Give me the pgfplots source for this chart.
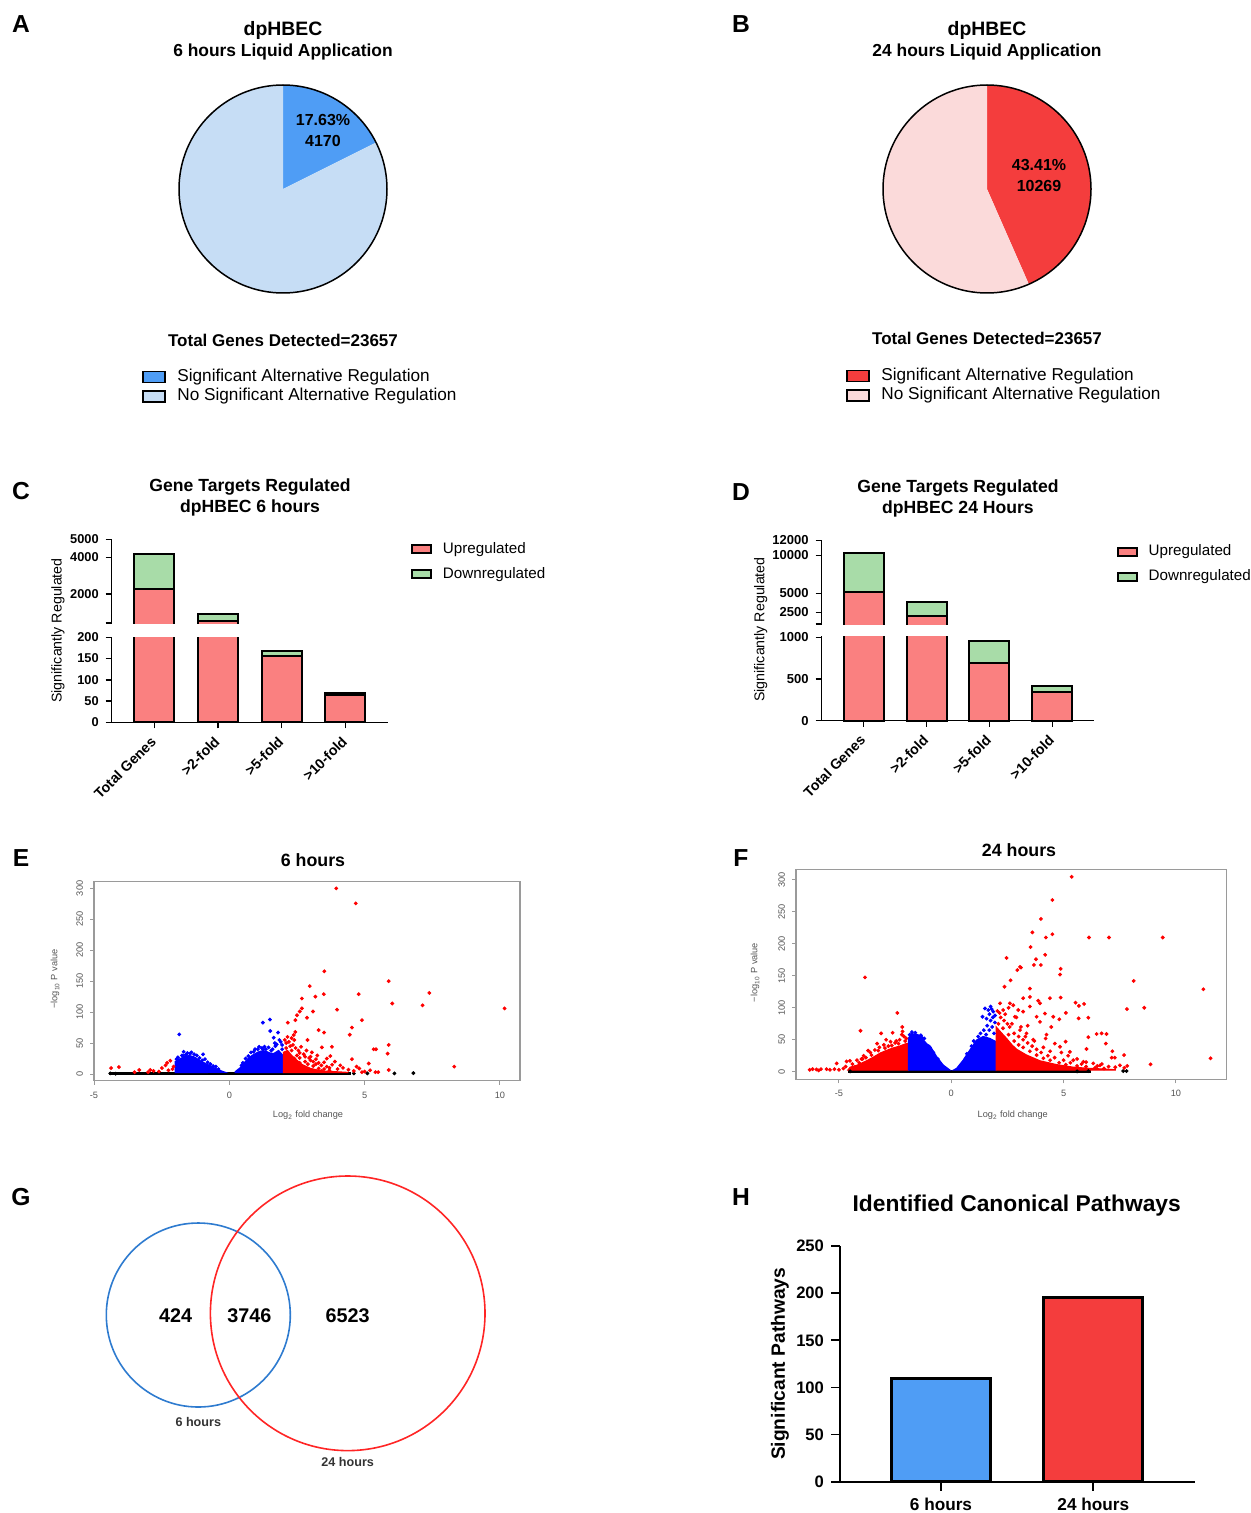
\documentclass[border=0pt]{standalone}
\usepackage{fontspec}
\setmainfont{Liberation Sans}
\usepackage{pgfplots}
\pgfplotsset{compat=1.18}
\definecolor{pieblue}{HTML}{4F9DF5}
\definecolor{pielight}{HTML}{C6DDF5}
\definecolor{piered}{HTML}{F43D3D}
\definecolor{piepink}{HTML}{FBDADA}
\definecolor{barred}{HTML}{FA8080}
\definecolor{bargreen}{HTML}{A8DCA8}
\definecolor{vennblue}{HTML}{2E7BCF}
\definecolor{vennred}{HTML}{FF2525}
\definecolor{vblue}{HTML}{0000FF}
\definecolor{vred}{HTML}{FF0000}
\definecolor{frame}{HTML}{9A9A9A}
\definecolor{tlab}{HTML}{555555}
\newcommand\fs[1]{\fontsize{#1}{#1}\selectfont}
\pgfplotsset{
  every axis/.append style={/pgf/number format/assume math mode=true, /pgf/number format/1000 sep={}},
  pieax/.style={scale only axis, width=104pt, height=104pt, xmin=-1, xmax=1, ymin=-1, ymax=1,
    hide axis, clip=false, legend cell align=left,
    legend image code/.code={\draw[##1, draw=black, line width=0.7pt] (0pt,-2.7pt) rectangle (11pt,2.8pt);},
    legend style={draw=none, fill=none, inner sep=0pt, column sep=5pt, row sep=0pt, font=\fs{8.6},
      nodes={inner sep=0.8pt, text height=6.2pt, text depth=1.8pt}, anchor=north west}},
  gbar/.style={scale only axis, ybar, bar width=20pt, axis line style={-, line width=0.75pt},
    tick align=outside, major tick length=3pt, tick style={line width=0.75pt, black},
    clip=false, axis y line*=left, axis x line*=bottom,
    xtick={0,1,2,3}, xticklabels={Total Genes,>2-fold,>5-fold,>10-fold},
    xticklabel style={xshift=2pt, yshift=-3pt, rotate=45, anchor=east, font=\bfseries\fs{7.1}},
    legend cell align=left, reverse legend,
    legend image code/.code={\draw[##1, draw=black, line width=1pt] (0pt,-2pt) rectangle (9.5pt,2.2pt);},
    legend style={draw=none, fill=none, inner sep=0pt, column sep=4.5pt, row sep=3.9pt, font=\fs{7.6},
      nodes={inner sep=0.8pt, text height=5.4pt, text depth=1.6pt}, anchor=north west}},
  volc/.style={scale only axis, axis line style={draw=frame, line width=0.6pt},
    xtick={-5,0,5,10}, ytick={0,50,100,150,200,250,300},
    xtick pos=left, ytick pos=left,
    tick align=outside, major tick length=2pt, tick style={draw=frame, line width=0.5pt},
    tick label style={font=\fs{4.6}, text=tlab},
    yticklabel style={rotate=90, anchor=south}},
  rdot/.style={only marks, mark=*, mark size=0.75pt, color=vred, mark options={draw=vred, fill=vred}},
  bdot/.style={only marks, mark=*, mark size=0.75pt, color=vblue, mark options={draw=vblue, fill=vblue}},
  kdot/.style={only marks, mark=*, mark size=0.75pt, color=black, mark options={draw=black, fill=black}},
}
\begin{document}
\begin{tikzpicture}
\useasboundingbox (0,0) rectangle (625pt,-756.5pt);
\begin{scope}[x=0.5pt,y=-0.5pt]
\coordinate (PA) at (283,189);
\coordinate (PB) at (987,189);
\coordinate (Clow) at (111.7,722.3);
\coordinate (Dlow) at (821.7,720.7);
\coordinate (Eax) at (94,1080.7);
\coordinate (Fax) at (796,1079.3);
\coordinate (Gax) at (0,1160);
\coordinate (Hax) at (840,1481.7);
\end{scope}

% ---------- A: pie 6 h ----------
\begin{axis}[pieax, at={(PA)}, anchor=center, legend style={at={(-0.178,-0.357)}}]
\addplot[fill=pieblue, draw=none, domain=26.53:90, samples=60] ({cos(x)},{sin(x)}) -- (0,0) -- cycle;
\addplot[fill=pielight, draw=none, domain=90:386.53, samples=150] ({cos(x)},{sin(x)}) -- (0,0) -- cycle;
\draw[black, line width=0.75pt] (0,0) circle[radius=1];
\legend{Significant Alternative Regulation, No Significant Alternative Regulation}
\end{axis}

% ---------- B: pie 24 h ----------
\begin{axis}[pieax, at={(PB)}, anchor=center, legend style={at={(-0.178,-0.352)}}]
\addplot[fill=piered, draw=none, domain=-66.28:90, samples=100] ({cos(x)},{sin(x)}) -- (0,0) -- cycle;
\addplot[fill=piepink, draw=none, domain=90:293.72, samples=120] ({cos(x)},{sin(x)}) -- (0,0) -- cycle;
\draw[black, line width=0.75pt] (0,0) circle[radius=1];
\legend{Significant Alternative Regulation, No Significant Alternative Regulation}
\end{axis}

% ---------- C: bars 6 h (broken y axis) ----------
% green bars = total (up + down), red bars = upregulated, drawn over them
\begin{axis}[gbar, at={(Clow)}, anchor=south west, width=138.3pt, height=91.5pt,
  xmin=-0.669, xmax=3.675, ymin=0, ymax=5000,
  y coord trafo/.code={\pgfmathparse{(#1<=200) ? 0.425*#1 : ((#1<=400) ? 85+(#1-200)*0.0707 : 128.3+(#1-2000)*0.018233)}},
  ytick={0,50,100,150,200,400,2000,4000,5000}, yticklabels={0,50,100,150,200,,2000,4000,5000},
  yticklabel style={font=\bfseries\fs{6.4}},
  legend style={at={(1.082,0.994)}}]
\addplot[fill=bargreen, draw=black, line width=1pt, bar shift=0pt] coordinates {(0,4170) (1,900) (2,168) (3,70)};
\addplot[fill=barred, draw=black, line width=1pt, bar shift=0pt] coordinates {(0,2250) (1,520) (2,157) (3,64)};
\fill[white] (axis cs:-0.76,202) rectangle (axis cs:3.675,390);
\legend{Downregulated, Upregulated}
\end{axis}

% ---------- D: bars 24 h (broken y axis) ----------
\begin{axis}[gbar, at={(Dlow)}, anchor=south west, width=136.15pt, height=90.2pt,
  xmin=-0.668, xmax=3.663, ymin=0, ymax=12000,
  y coord trafo/.code={\pgfmathparse{(#1<=1000) ? 0.0834*#1 : ((#1<=1100) ? 83.4+(#1-1000)*0.1439 : 108.4+(#1-2500)*0.0075789)}},
  ytick={0,500,1000,1092.4,2500,5000,10000,12000}, yticklabels={0,500,1000,,2500,5000,10000,12000},
  yticklabel style={font=\bfseries\fs{6.5}},
  legend style={at={(1.083,0.985)}}]
\addplot[fill=bargreen, draw=black, line width=1pt, bar shift=0pt] coordinates {(0,10269) (1,3820) (2,955) (3,420)};
\addplot[fill=barred, draw=black, line width=1pt, bar shift=0pt] coordinates {(0,5150) (1,2000) (2,690) (3,340)};
\fill[white] (axis cs:-0.76,1006) rectangle (axis cs:3.663,1086);
\legend{Downregulated, Upregulated}
\end{axis}

% ---------- E: volcano 6 h ----------
\begin{axis}[volc, at={(Eax)}, anchor=south west, width=213pt, height=99.5pt,
  xmin=-5, xmax=10.74, ymin=-10.8, ymax=310.7]
\addplot[fill=black, draw=none] coordinates {(-4.45,-1.5) (4.5,-1.5) (4.5,2.5) (-4.45,2.5)} -- cycle;
\addplot[kdot] coordinates {(-4.4,1) (-4.2,0.5) (4.6,1) (5.1,1) (6.1,1) (6.8,1.5)};
\addplot[fill=vblue, draw=vblue, line width=0.6pt] coordinates {(-2.0,2.5) (-2.0,20) (-1.9,23) (-1.81,25) (-1.65,28) (-1.5,30) (-1.32,28) (-1.2,25) (-1.07,21) (-0.83,16) (-0.58,10.5) (-0.33,5.5) (-0.15,2.7)} -- cycle;
\addplot[fill=vblue, draw=vblue, line width=0.6pt] coordinates {(0.22,2.5) (0.22,3.8) (0.41,10.5) (0.59,20) (0.7,25) (0.84,30) (1.0,34) (1.15,37) (1.39,36) (1.5,34) (1.64,33) (1.82,38) (1.9,34) (1.98,30) (1.98,2.5)} -- cycle;
\addplot[bdot] coordinates {(-1.85,64) (-1.69,36) (-0.97,31.8) (-1.55,34) (-1.4,35) (-1.75,30) (-1.2,30) (-1.9,27) (-1.6,31.5) (-0.9,24) (-0.7,16) (-0.5,12) (-1.1,26) (-1.3,32) (-1.45,33) (-1.0,22) (-0.8,19) (-0.6,13) (-0.4,8) (-1.95,24) (-1.7,29)
 (1.24,83) (1.50,88) (1.51,69.5) (1.80,67) (1.64,58.7) (1.2,42) (1.3,44) (1.45,43) (1.6,40) (1.75,48) (1.9,52) (1.7,45) (0.95,40) (0.8,35) (0.6,25) (0.5,18) (1.1,44) (1.85,55) (1.95,47) (1.68,50) (1.05,40) (1.35,40) (1.55,38) (0.9,36) (0.7,29) (0.45,14) (1.25,39) (1.95,40)};
\addplot[fill=vred, draw=vred, line width=0.6pt] coordinates {(2.0,2.5) (2.0,35) (2.15,38) (2.3,30) (2.5,22) (2.7,15) (3.0,9) (3.4,5) (4.0,3.5) (4.4,2.5)} -- cycle;
\addplot[rdot] coordinates {(3.95,300) (4.67,275.7) (3.51,166) (5.89,150) (2.97,142) (7.39,131) (3.49,129) (4.78,129) (3.18,125) (2.68,122) (7.14,111) (6.02,114) (10.17,106) (3.98,104) (3.09,101) (2.68,106) (2.60,101) (2.50,95) (2.87,91) (2.44,87) (2.16,83) (4.90,87) (3.30,71) (3.50,67) (2.44,68) (2.38,63) (4.53,75) (4.45,63.5) (2.89,55) (5.89,47) (5.33,40) (5.42,40) (3.79,44) (3.42,43) (5.85,33) (3.73,29) (4.53,24) (8.31,12) (5.15,17) (5.89,6.5)
 (2.05,55) (2.1,50) (2.2,52) (2.25,45) (2.35,47) (2.45,42) (2.55,38) (2.6,34) (2.75,32) (2.8,28) (2.95,26) (3.0,22) (3.1,20) (3.2,16) (3.3,18) (3.4,14) (3.6,12) (3.7,10) (3.8,15) (4.0,8) (4.2,10) (4.4,7) (4.6,5) (4.8,9) (5.0,4) (5.2,6) (5.4,3) (3.9,20) (2.65,44) (2.3,58) (2.15,60) (2.4,55) (3.05,35) (2.85,38) (3.25,30) (3.6,25) (4.1,14) (4.7,12) (5.5,3) (4.9,3) (2.9,8) (3.4,5) (2.7,12)
 (2.1,42) (2.3,38) (2.5,30) (2.6,26) (2.8,20) (2.9,16) (3.1,13) (3.3,9) (3.5,8) (3.7,6) (2.2,30) (2.4,25) (2.6,18) (3.0,28) (3.2,24) (3.5,19)
 (-4.37,9.7) (-4.08,11.3) (-3.33,6.5) (-2.30,18) (-2.18,21.5) (-2.36,14) (-2.49,9.7) (-2.92,6.5) (-2.06,12) (-2.1,8) (-2.25,6) (-2.6,4) (-3.0,3) (-2.8,5) (-3.5,3)};
\end{axis}

% ---------- F: volcano 24 h ----------
\begin{axis}[volc, at={(Fax)}, anchor=south west, width=215.35pt, height=105pt,
  xmin=-6.91, xmax=12.26, ymin=-11.9, ymax=316.7]
\addplot[fill=black, draw=none] coordinates {(-4.6,-2) (6.2,-2) (6.2,2.5) (-4.6,2.5)} -- cycle;
\addplot[kdot] coordinates {(7.65,1) (7.8,1) (-4.5,0.5) (5.6,0.5) (6.1,1)};
\addplot[fill=vred, draw=vred, line width=0.6pt] coordinates {(-4.6,2.5) (-4.5,7) (-4.2,10) (-3.77,17) (-3.5,22) (-3.17,29) (-2.9,33) (-2.6,37) (-2.3,40) (-2.0,44) (-1.91,44) (-1.91,2.5)} -- cycle;
\addplot[rdot] coordinates {(-6.17,4) (-6.0,3.5) (-5.8,4) (-5.55,4) (-5.4,3) (-5.2,4) (-5.0,3) (-5.1,13) (-4.8,5) (-4.66,16) (-4.51,17) (-4.7,8) (-4.4,12) (-4.2,18) (-4.0,20) (-3.9,25) (-3.6,30) (-3.4,34) (-3.2,38) (-3.0,42) (-2.8,40) (-2.7,47) (-2.5,45) (-2.3,50) (-2.1,55) (-2.0,52) (-3.84,147.6) (-4.04,64) (-2.40,92) (-2.18,70) (-2.17,63) (-3.12,60) (-2.61,61) (-2.9,50) (-3.3,44) (-2.2,58) (-3.7,33) (-4.3,7) (-5.9,2) (-6.3,3)
 (-3.95,20) (-3.55,26) (-3.25,33) (-2.95,37) (-2.65,41) (-2.35,44) (-2.05,48) (-4.1,14) (-3.8,22) (-2.45,48)};
\addplot[fill=vblue, draw=vblue, line width=0.6pt] coordinates {(-1.91,2.5) (-1.91,52) (-1.77,60) (-1.6,58) (-1.39,57) (-1.25,50) (-1.10,44) (-0.875,36.5) (-0.65,23.5) (-0.36,10.4) (-0.06,2.5)} -- cycle;
\addplot[fill=vblue, draw=vblue, line width=0.6pt] coordinates {(0.1,2.5) (0.24,5.2) (0.53,18) (0.83,34) (1.13,49.6) (1.42,55) (1.72,52) (1.99,47) (1.99,2.5)} -- cycle;
\addplot[bdot] coordinates {(-1.85,58) (-1.7,55) (-1.5,56) (-1.3,53) (-1.0,40) (-0.8,30) (-1.2,52) (-1.45,48) (-0.6,20) (-1.75,62) (-1.6,61) (-1.35,57) (-0.95,38)
 (1.39,86) (1.57,83) (1.65,96.5) (1.75,102) (1.87,94) (1.82,70) (1.50,99) (1.94,77) (1.69,65) (1.3,60) (1.45,65) (1.6,72) (1.75,80) (1.85,85) (1.9,60) (1.55,58) (1.2,55) (1.0,48) (0.9,40) (0.7,28) (1.7,90) (1.8,98) (1.95,88)};
\addplot[fill=vred, draw=vred, line width=0.6pt] coordinates {(2.0,2.5) (2.0,70) (2.1,66) (2.25,60) (2.46,52) (2.7,42) (2.91,35) (3.35,26) (3.95,17) (4.69,11) (5.43,7) (6.2,5) (6.91,4) (7.3,3) (7.3,2.5)} -- cycle;
\addplot[rdot] coordinates {(5.36,305) (4.50,268.6) (3.99,239) (3.61,218) (4.50,215) (4.21,210) (6.13,210) (7.02,210) (9.41,210) (2.46,178) (3.77,176) (4.18,183) (3.53,195) (3.99,167) (3.68,167) (3.06,164) (3.10,163) (2.94,159) (4.87,161) (4.84,152) (2.64,143) (8.12,142) (3.50,130) (2.37,133) (11.22,129) (4.87,116) (4.39,115) (3.87,111) (5.53,108) (5.91,106) (5.68,103) (7.82,98) (8.59,100) (5.10,92) (4.81,82) (6.10,84.5) (5.67,83.5) (6.47,59) (6.69,60) (6.91,59) (6.10,54) (5.09,47) (6.88,44) (7.17,32) (6.02,35.5) (7.69,26) (7.14,22) (7.28,22) (7.83,9) (8.87,11.5) (11.54,21)
 (4.54,86) (4.45,70) (3.95,78) (4.24,58) (3.65,50) (3.35,60) (3.06,65) (2.83,86) (3.20,94) (2.61,107) (2.76,104) (2.98,96.5) (3.50,102) (2.17,107) (2.31,96.5) (3.95,107) (4.17,91) (3.50,117) (3.20,115) (3.80,86) (4.61,44) (4.84,39) (5.28,31) (5.43,18) (6.32,13) (6.62,10) (5.88,15.6) (7.51,10)
 (2.05,95) (2.15,92) (2.2,85) (2.35,80) (2.5,75) (2.6,70) (2.8,60) (3.0,55) (3.2,50) (3.4,45) (3.6,40) (3.8,35) (4.0,30) (4.3,25) (4.6,22) (5.0,18) (5.3,14) (5.8,12) (6.5,9) (7.0,8) (7.3,7) (7.7,6) (2.4,90) (2.7,75) (3.1,70) (3.3,55) (3.7,48) (4.1,38) (4.4,32) (5.2,25) (5.6,20) (6.0,15) (6.7,12) (2.9,85) (2.55,100) (3.4,72) (4.2,52) (4.9,30)
 (2.1,75) (2.3,68) (2.55,58) (2.8,48) (3.0,42) (3.2,38) (3.5,32) (3.8,26) (4.1,21) (4.4,18) (4.8,14) (5.1,11) (5.6,9) (6.0,8) (6.4,6) (6.8,5)};
\end{axis}

% ---------- G: Venn ----------
\begin{axis}[at={(Gax)}, anchor=north west, scale only axis, width=260pt, height=160pt,
  xmin=0, xmax=520, ymin=1160, ymax=1480, y dir=reverse, hide axis, clip=false]
\draw[vennblue, line width=0.8pt] (198.3,1315) circle[radius=92];
\draw[vennred, line width=0.8pt] (347.7,1313.3) circle[radius=137.3];
\node[font=\bfseries\fs{9.9}] at (175.7,1315.7) {424};
\node[font=\bfseries\fs{9.9}] at (249.3,1315.7) {3746};
\node[font=\bfseries\fs{9.9}] at (347.7,1315.7) {6523};
\node[font=\bfseries\fs{6.3}, text=black!80] at (198.3,1421.7) {6 hours};
\node[font=\bfseries\fs{6.3}, text=black!80] at (347.7,1462.3) {24 hours};
\end{axis}

% ---------- H: pathways ----------
\begin{axis}[at={(Hax)}, anchor=south west, scale only axis, width=177.5pt, height=117.85pt,
  xmin=-0.663, xmax=1.668, ymin=0, ymax=250, ytick={0,50,100,150,200,250},
  xtick={0,1}, xticklabels={6 hours,24 hours},
  axis x line*=bottom, axis y line*=left, axis line style={-, line width=0.8pt},
  tick align=outside, major tick length=4.5pt, tick style={line width=0.8pt, black},
  yticklabel style={font=\bfseries\fs{8.3}}, xticklabel style={font=\bfseries\fs{8.6}},
  ybar, bar width=49.5pt,
  ylabel={Significant Pathways},
  ylabel style={font=\bfseries\fs{9.6}, at={(axis description cs:-0.169,0.5)}, anchor=center}]
\addplot[fill=pieblue, draw=black, line width=1.5pt, bar shift=0pt] coordinates {(0,109)};
\addplot[fill=piered, draw=black, line width=1.5pt, bar shift=0pt] coordinates {(1,195)};
\end{axis}

% ---------- texts ----------
\begin{scope}[x=0.5pt,y=-0.5pt]
\node[font=\bfseries\fs{12.3}] at (21,24) {A};
\node[font=\bfseries\fs{12.3}] at (741,24) {B};
\node[font=\bfseries\fs{12.3}] at (21,491) {C};
\node[font=\bfseries\fs{12.3}] at (741,492) {D};
\node[font=\bfseries\fs{12.3}] at (21,858) {E};
\node[font=\bfseries\fs{12.3}] at (741,858) {F};
\node[font=\bfseries\fs{12.3}] at (21,1197) {G};
\node[font=\bfseries\fs{12.3}] at (741,1197) {H};
\node[font=\bfseries\fs{9.7}] at (283,30) {dpHBEC};
\node[font=\bfseries\fs{8.7}] at (283,52) {6 hours Liquid Application};
\node[font=\bfseries\fs{8}] at (323,120) {17.63\%};
\node[font=\bfseries\fs{8}] at (323,141) {4170};
\node[font=\bfseries\fs{8.5}] at (283,340) {Total Genes Detected=23657};
\node[font=\bfseries\fs{9.7}] at (987,30) {dpHBEC};
\node[font=\bfseries\fs{8.7}] at (987,52) {24 hours Liquid Application};
\node[font=\bfseries\fs{8}] at (1039,165) {43.41\%};
\node[font=\bfseries\fs{8}] at (1039,186) {10269};
\node[font=\bfseries\fs{8.5}] at (987,338) {Total Genes Detected=23657};
\node[font=\bfseries\fs{8.8}] at (250,487) {Gene Targets Regulated};
\node[font=\bfseries\fs{8.8}] at (250,508) {dpHBEC 6 hours};
\node[font=\fs{7.1}, rotate=90] at (58,630.5) {Significantly Regulated};
\node[font=\bfseries\fs{8.8}] at (958,488) {Gene Targets Regulated};
\node[font=\bfseries\fs{8.8}] at (958,509) {dpHBEC 24 Hours};
\node[font=\fs{7.1}, rotate=90] at (760.7,629.5) {Significantly Regulated};
\node[font=\bfseries\fs{8.9}] at (313,860) {6 hours};
\node[font=\fs{4.6}, text=tlab] at (308,1115) {Log\textsubscript{2} fold change};
\node[font=\fs{4.6}, text=tlab, rotate=90] at (55,979) {−log\textsubscript{10} P value};
\node[font=\bfseries\fs{8.9}] at (1019,850) {24 hours};
\node[font=\fs{4.6}, text=tlab] at (1012.7,1115) {Log\textsubscript{2} fold change};
\node[font=\fs{4.6}, text=tlab, rotate=90] at (755,972.5) {−log\textsubscript{10} P value};
\node[font=\bfseries\fs{11.4}] at (1016.7,1206) {Identified Canonical Pathways};
\end{scope}
\end{tikzpicture}
\end{document}
